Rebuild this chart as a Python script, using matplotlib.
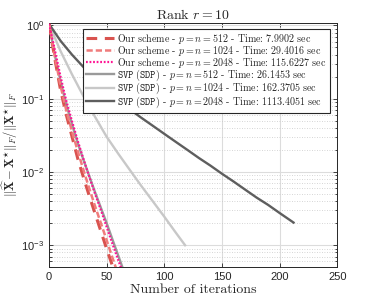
import matplotlib
matplotlib.use("Agg")
import matplotlib.pyplot as plt
import numpy as np
from matplotlib.ticker import LogLocator, FixedLocator, NullFormatter

plt.rcParams['mathtext.fontset'] = 'cm'
plt.rcParams['mathtext.rm'] = 'Liberation Sans'
plt.rcParams['mathtext.it'] = 'Liberation Sans:italic'
plt.rcParams['font.family'] = 'Liberation Sans'

# iterations
it_steep = [0, 5, 10, 15, 20, 25, 30, 35, 40, 45, 50, 55, 60, 65]
it_1024 = [0, 10, 20, 30, 40, 50, 60, 70, 80, 90, 100, 110, 118]
it_2048 = [0, 10, 20, 30, 40, 50, 60, 70, 80, 90, 100, 110, 120, 130, 140,
           150, 160, 170, 180, 190, 200, 212]

# relative error, our scheme
ours_512 = [1.05, 0.355, 0.132, 0.0603, 0.0302, 0.0151, 0.00832, 0.00468,
            0.00269, 0.00155, 0.000891, 0.000525, 0.000316]
ours_1024 = [1.05, 0.380, 0.151, 0.0692, 0.0355, 0.0191, 0.0105, 0.00589,
             0.00339, 0.00200, 0.00117, 0.000676, 0.000398]
ours_2048 = [1.05, 0.468, 0.200, 0.0933, 0.0490, 0.0263, 0.0148, 0.00851,
             0.00501, 0.00302, 0.00178, 0.00105, 0.000631, 0.000380]

# relative error, SVP (SDP)
svp_512 = [1.05, 0.398, 0.174, 0.0832, 0.0447, 0.0245, 0.0145, 0.00871,
           0.00525, 0.00324, 0.00200, 0.00120, 0.000724, 0.000437]
svp_1024 = [1.05, 0.447, 0.214, 0.107, 0.0562, 0.0302, 0.0178, 0.0107,
            0.00646, 0.00398, 0.00245, 0.00148, 0.00100]
svp_2048 = [1.05, 0.617, 0.398, 0.269, 0.191, 0.138, 0.100, 0.0716, 0.0550,
            0.0427, 0.0331, 0.0257, 0.0200, 0.0155, 0.0122, 0.00945, 0.00741,
            0.00575, 0.00447, 0.00355, 0.00275, 0.00204]

labels = [
    r'$\text{Our scheme - }p = n = 512\text{ - Time: 7.9902 sec}$',
    r'$\text{Our scheme - }p = n = 1024\text{ - Time: 29.4016 sec}$',
    r'$\text{Our scheme - }p = n = 2048\text{ - Time: 115.6227 sec}$',
    r'$\mathtt{SVP\ (SDP)}\text{ - }p = n = 512\text{ - Time: 26.1453 sec}$',
    r'$\mathtt{SVP\ (SDP)}\text{ - }p = n = 1024\text{ - Time: 162.3705 sec}$',
    r'$\mathtt{SVP\ (SDP)}\text{ - }p = n = 2048\text{ - Time: 1113.4051 sec}$',
]
ytick_vals = [1e-3, 1e-2, 1e-1, 1e0]
ytick_labels = [r'$10^{-3}$', r'$10^{-2}$', r'$10^{-1}$', r'$10^{0}$']

fig = plt.figure(figsize=(3.74, 3.01), dpi=100)
ax = fig.add_axes([0.131, 0.112, 0.771, 0.8126])

h1, = ax.plot(it_steep[:13], ours_512, color='#d9534f', lw=2.2, ls=(0, (3.5, 2.5)))
h2, = ax.plot(it_steep[:13], ours_1024, color='#f07c7c', lw=1.8, ls=(0, (2.5, 1.2)))
h3, = ax.plot(it_steep, ours_2048, color='#ff1493', lw=1.6, ls=(0, (0.8, 0.8)))
h4, = ax.plot(it_steep, svp_512, color='#9a9a9a', lw=1.7)
h5, = ax.plot(it_1024, svp_1024, color='#c8c8c8', lw=1.7)
h6, = ax.plot(it_2048, svp_2048, color='#5e5e5e', lw=1.7)
for h in (h1, h2, h3):
    h.set_zorder(4)

ax.set_yscale('log')
ax.set_xlim(0, 250)
ax.set_ylim(5e-4, 1.09)
ax.set_xticks([0, 50, 100, 150, 200, 250])
ax.yaxis.set_major_locator(FixedLocator(ytick_vals))
ax.yaxis.set_minor_locator(LogLocator(base=10, subs=np.arange(2, 10), numticks=20))
ax.yaxis.set_minor_formatter(NullFormatter())
ax.set_yticklabels(ytick_labels)
for t in ax.get_yticklabels():
    t.set_math_fontfamily('custom')

ax.grid(True, which='major', color='#dcdcdc', lw=0.8, ls='-')
ax.grid(True, which='minor', axis='y', color='#c8c8c8', lw=0.6, ls=(0, (1, 2)))
ax.set_axisbelow(True)
ax.tick_params(which='both', direction='in', top=True, right=True,
               labelsize=8, colors='#262626', width=0.6)
ax.tick_params(which='major', length=3)
ax.tick_params(which='minor', length=1.8)
for s in ax.spines.values():
    s.set_color('#262626')
    s.set_linewidth(0.7)

ax.set_title(r'Rank $r = 10$', fontsize=10, family='cmr10', pad=3, color='#262626')
ax.set_xlabel('Number of iterations', fontsize=10, family='cmr10',
              labelpad=1, color='#262626')
ax.set_ylabel(r'$\|\widehat{\mathbf{X}} - \mathbf{X}^{\star}\|_F/\|\mathbf{X}^{\star}\|_F$',
              fontsize=9, color='#262626')
ax.yaxis.set_label_coords(-0.1, 0.5)

# cm math text reports tall boxes, so rows are pulled together here
leg = ax.legend([h1, h2, h3, h4, h5, h6], labels, loc='upper right',
                bbox_to_anchor=(0.974, 0.975), handlelength=2.8,
                handletextpad=0.3, labelspacing=-0.2, borderpad=0.3,
                borderaxespad=0.0, fancybox=False, framealpha=1,
                edgecolor='#262626', fontsize=7.2)
leg.get_frame().set_linewidth(0.8)
for t in leg.get_texts():
    t.set_color('#262626')

fig.savefig('out.png', dpi=100)
